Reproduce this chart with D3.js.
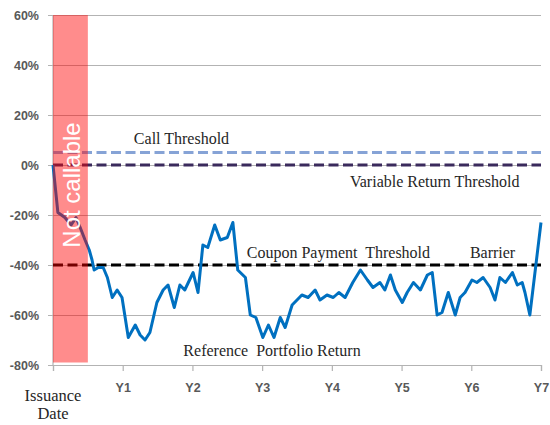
<!DOCTYPE html>
<html>
<head>
<meta charset="utf-8">
<script src="https://cdn.jsdelivr.net/npm/d3@7"></script>
<style>
    body { margin: 0; background: #fff; }
    svg { display: block; }
    .tick-label { font-family: "Liberation Sans", Arial, sans-serif; font-weight: bold; font-size: 12.5px; fill: #595959; }
    .note { font-family: "Liberation Serif", "Times New Roman", serif; font-size: 16px; fill: #262626; white-space: pre; }
</style>
</head>
<body>
<div id="chart"></div>
<script>
(function () {
    'use strict';

    // time in years since issuance, and portfolio return in %
    var years = [0, 0.07, 0.17, 0.26, 0.33, 0.39, 0.46, 0.52, 0.56, 0.59,
        0.65, 0.72, 0.78, 0.85, 0.92, 0.99, 1.08, 1.18, 1.25, 1.32,
        1.39, 1.49, 1.58, 1.65, 1.74, 1.82, 1.89, 2.01, 2.08, 2.15,
        2.22, 2.32, 2.40, 2.50, 2.58, 2.65, 2.76, 2.83, 2.91, 3.01,
        3.09, 3.17, 3.26, 3.33, 3.43, 3.57, 3.66, 3.76, 3.83, 3.93,
        4.02, 4.10, 4.19, 4.30, 4.41, 4.51, 4.59, 4.69, 4.76, 4.84,
        4.91, 5.01, 5.08, 5.17, 5.27, 5.37, 5.44, 5.51, 5.58, 5.67,
        5.77, 5.84, 5.91, 6.01, 6.08, 6.17, 6.27, 6.34, 6.41, 6.49,
        6.59, 6.66, 6.73, 6.77, 6.84, 7.0];
    var returns = [0, -19, -21, -24, -21, -25, -30, -34, -38, -42,
        -41, -41, -45, -53, -50, -53, -69, -64, -68, -70,
        -67, -55, -50, -48, -57, -48, -50, -43, -51, -32,
        -33, -24, -30, -29, -23, -42, -45, -60, -61, -69,
        -64, -69, -61, -65, -56, -52, -53, -50, -54, -52,
        -53, -51, -53, -47, -42, -46, -49, -47, -50, -44,
        -50, -55, -51, -47, -50, -44, -43, -60, -59, -51,
        -60, -53, -51, -46, -47, -45, -49, -54, -45, -47,
        -43, -48, -47, -51, -60, -23];

    var yTicks = [60, 40, 20, 0, -20, -40, -60, -80];
    var xTicks = [0, 1, 2, 3, 4, 5, 6, 7];
    var xTickLabels = ['', 'Y1', 'Y2', 'Y3', 'Y4', 'Y5', 'Y6', 'Y7'];

    var thresholds = [
        { name: 'Call Threshold', value: 5 },
        { name: 'Variable Return Threshold', value: 0 },
        { name: 'Coupon Payment Threshold', value: -40 }
    ];
    var notCallableEnd = 0.5;

    var width = 550, height = 425;
    var svg = d3.select('#chart').append('svg')
        .attr('width', width)
        .attr('height', height);

    var x = d3.scaleLinear().domain([0, 7]).range([53, 541]);
    var y = d3.scaleLinear().domain([-80, 60]).range([365, 15]);

    // gridlines + y labels
    var yAxis = svg.append('g')
        .attr('transform', 'translate(' + x(0) + ',0)')
        .call(d3.axisLeft(y).tickValues(yTicks)
            .tickSize(-(x(7) - x(0)))
            .tickPadding(14)
            .tickFormat(function (d) { return d + '%'; }));
    yAxis.select('.domain').remove();
    yAxis.selectAll('.tick line').attr('stroke', '#b3b3b3').attr('stroke-width', 1.2).attr('x1', -5);
    yAxis.selectAll('.tick text').attr('class', 'tick-label');

    svg.append('line')
        .attr('x1', x(0)).attr('x2', x(0))
        .attr('y1', y(60)).attr('y2', y(-80))
        .attr('stroke', '#b3b3b3').attr('stroke-width', 1.2);

    // x axis
    var xAxis = svg.append('g')
        .attr('transform', 'translate(0,' + y(-80) + ')')
        .call(d3.axisBottom(x).tickValues(xTicks)
            .tickSize(6)
            .tickPadding(12)
            .tickFormat(function (d, i) { return xTickLabels[i]; }));
    xAxis.select('.domain').attr('stroke', '#b3b3b3').attr('stroke-width', 1.2);
    xAxis.selectAll('.tick line').attr('stroke', '#b3b3b3').attr('stroke-width', 1.2);
    xAxis.selectAll('.tick text').attr('class', 'tick-label');

    var issuance = svg.append('text')
        .attr('class', 'note')
        .style('font-size', '16.5px')
        .attr('text-anchor', 'middle')
        .attr('x', x(0))
        .attr('y', 401);
    issuance.append('tspan').attr('x', x(0)).text('Issuance');
    issuance.append('tspan').attr('x', x(0)).attr('dy', 18).text('Date');

    // threshold lines
    var threshColors = ['#86a3d6', '#3a2a5c', '#000000'];
    svg.selectAll('.thresh')
        .data(thresholds)
        .enter()
        .append('line')
        .attr('class', 'thresh')
        .attr('x1', x(0)).attr('x2', x(7))
        .attr('y1', function (d) { return y(d.value); })
        .attr('y2', function (d) { return y(d.value); })
        .attr('stroke', function (d, i) { return threshColors[i]; })
        .attr('stroke-width', 3)
        .attr('stroke-dasharray', '10,4.5');

    // portfolio line
    var points = years.map(function (t, i) { return [t, returns[i]]; });
    var line = d3.line()
        .x(function (d) { return x(d[0]); })
        .y(function (d) { return y(d[1]); });
    svg.append('path')
        .datum(points)
        .attr('d', line)
        .attr('fill', 'none')
        .attr('stroke', '#0070c0')
        .attr('stroke-width', 3)
        .attr('stroke-linejoin', 'round');

    // not callable band
    svg.append('rect')
        .attr('x', x(0))
        .attr('y', y(60))
        .attr('width', x(notCallableEnd) - x(0))
        .attr('height', y(-79) - y(60))
        .attr('fill', '#ff0000')
        .attr('fill-opacity', 0.45);
    svg.append('text')
        .attr('transform', 'translate(' + (x(0) + 27) + ',' + 185 + ') rotate(-90)')
        .attr('text-anchor', 'middle')
        .style('font-family', '"Liberation Sans", Arial, sans-serif')
        .style('font-size', '24px')
        .attr('fill', '#ffffff')
        .text('Not callable');

    // annotations
    var notes = [
        { text: 'Call Threshold', t: 1.16, v: 8.4 },
        { text: 'Variable Return Threshold', t: 4.26, v: -8.8 },
        { text: 'Coupon Payment  Threshold', t: 2.78, v: -37.3 },
        { text: 'Barrier', t: 5.98, v: -37.3 },
        { text: 'Reference  Portfolio Return', t: 1.87, v: -76.4 }
    ];
    svg.selectAll('.note-label')
        .data(notes)
        .enter()
        .append('text')
        .attr('class', 'note')
        .attr('x', function (d) { return x(d.t); })
        .attr('y', function (d) { return y(d.v); })
        .text(function (d) { return d.text; });
})();
</script>
</body>
</html>
